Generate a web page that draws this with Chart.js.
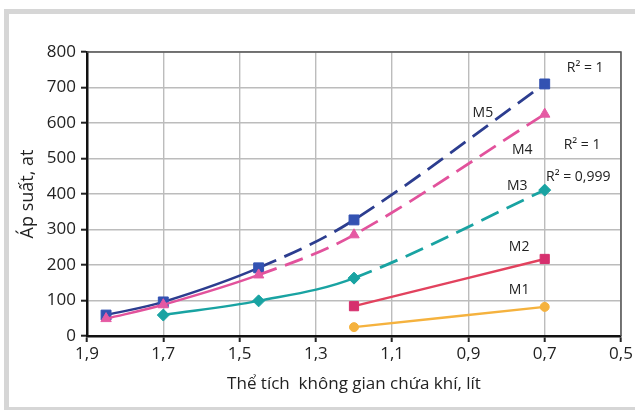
<!DOCTYPE html>
<html>
<head>
<meta charset="utf-8">
<script src="https://cdn.jsdelivr.net/npm/chart.js"></script>
<style>
  html, body { margin: 0; padding: 0; background: #fff; }
  #frame { position: absolute; left: 4px; top: 9px; width: 640px; height: 403px;
           box-sizing: border-box; border: 5px solid #d6d6d6; }
  #chart { position: absolute; left: 0; top: 0; }
</style>
</head>
<body>
<div id="frame"></div>
<canvas id="chart" width="635" height="410"></canvas>
<script>
// the x values are volumes in litres, y values are pressures in at
var volumes = [1.85, 1.7, 1.45, 1.2, 0.7];
var m5 = [59, 96, 192, 327, 710];
var m4 = [49, 88, 172, 285, 625];
var m3 = [null, 59, 99, 163, 411];
var m2 = [null, null, null, 84, 217];
var m1 = [null, null, null, 25, 82];
var xTicks = [1.9, 1.7, 1.5, 1.3, 1.1, 0.9, 0.7, 0.5];
var yTicks = [0, 100, 200, 300, 400, 500, 600, 700, 800];

// text labels next to the curves, [text, x, y] in data units
var labels = [
  ['M5', 0.862, 628], ['M4', 0.759, 524], ['M3', 0.772, 423],
  ['M2', 0.767, 251], ['M1', 0.767, 130],
  ['R\u00b2 = 1', 0.594, 755], ['R\u00b2 = 1', 0.602, 538], ['R\u00b2 = 0,999', 0.612, 448]
];

function pts(arr) {
  return volumes.map(function (v, i) { return { x: v, y: arr[i] }; })
    .filter(function (p) { return p.y !== null; });
}

function series(arr, line, fill, style, r, dashFrom) {
  return {
    data: pts(arr),
    showLine: true,
    borderColor: line,
    borderWidth: 2.4,
    tension: 0.35,
    pointStyle: style,
    pointRadius: r,
    pointHoverRadius: r,
    pointBackgroundColor: fill,
    pointBorderColor: fill,
    pointBorderWidth: 1,
    segment: {
      borderDash: function (ctx) {
        return dashFrom !== null && ctx.p0.parsed.x <= dashFrom + 0.001 ? [19, 9] : undefined;
      },
      borderWidth: function (ctx) {
        return dashFrom !== null && ctx.p0.parsed.x <= dashFrom + 0.001 ? 2.8 : undefined;
      }
    }
  };
}

var frameAndText = {
  id: 'frameAndText',
  beforeDatasetsDraw: function (chart) {
    var a = chart.chartArea, c = chart.ctx;
    c.save();
    c.strokeStyle = '#555';
    c.lineWidth = 1.5;
    c.beginPath();
    c.moveTo(a.left, a.top);
    c.lineTo(a.right, a.top);
    c.lineTo(a.right, a.bottom);
    c.stroke();
    c.restore();
  },
  afterDatasetsDraw: function (chart) {
    var c = chart.ctx, xs = chart.scales.x, ys = chart.scales.y;
    c.save();
    c.fillStyle = '#222';
    c.font = '14px "Open Sans"';
    c.textAlign = 'center';
    c.textBaseline = 'middle';
    labels.forEach(function (l) {
      c.fillText(l[0], xs.getPixelForValue(l[1]), ys.getPixelForValue(l[2]));
    });
    c.restore();
  }
};

new Chart(document.getElementById('chart'), {
  type: 'scatter',
  data: {
    datasets: [
      series(m1, '#f5b23e', '#f5b23e', 'circle', 4.5, null),
      series(m2, '#e2425e', '#d6306e', 'rect', 6.5, null),
      series(m3, '#19a3a2', '#19a3a2', 'rectRot', 6, 1.2),
      series(m4, '#e2529c', '#e55aa3', 'triangle', 6, 1.45),
      series(m5, '#2c3d8f', '#3352b2', 'rect', 7, 1.45)
    ]
  },
  options: {
    responsive: false,
    animation: false,
    layout: { padding: { left: 0, right: 14, top: 52, bottom: 10 } },
    plugins: { legend: { display: false }, tooltip: { enabled: false } },
    scales: {
      x: {
        type: 'linear',
        reverse: true,
        min: 0.5,
        max: 1.9,
        afterBuildTicks: function (s) { s.ticks = xTicks.map(function (v) { return { value: v }; }); },
        afterFit: function (s) { s.height = 64; },
        ticks: {
          color: '#222',
          font: { family: 'Open Sans', size: 17 },
          padding: 2,
          maxRotation: 0,
          callback: function (v) { return v.toFixed(1).replace('.', ','); }
        },
        grid: { color: '#bcbcbc', lineWidth: 1.4, tickColor: '#222', tickLength: 6, tickWidth: 2 },
        border: { color: '#111', width: 2.5 },
        title: {
          display: true,
          text: 'Thể tích  không gian chứa khí, lít',
          color: '#222',
          font: { family: 'Open Sans', size: 17 },
          padding: { top: 0, bottom: 6 }
        }
      },
      y: {
        min: 0,
        max: 800,
        afterBuildTicks: function (s) { s.ticks = yTicks.map(function (v) { return { value: v }; }); },
        afterFit: function (s) { s.width = 87; },
        ticks: {
          color: '#222',
          font: { family: 'Open Sans', size: 17 },
          padding: 5
        },
        grid: { color: '#bcbcbc', lineWidth: 1.4, tickColor: '#222', tickLength: 6, tickWidth: 2 },
        border: { color: '#111', width: 2.5 },
        title: {
          display: true,
          text: 'Áp suất, at',
          color: '#222',
          font: { family: 'Open Sans', size: 18 },
          padding: { top: 17, bottom: 0 }
        }
      }
    }
  },
  plugins: [frameAndText]
});
</script>
</body>
</html>
